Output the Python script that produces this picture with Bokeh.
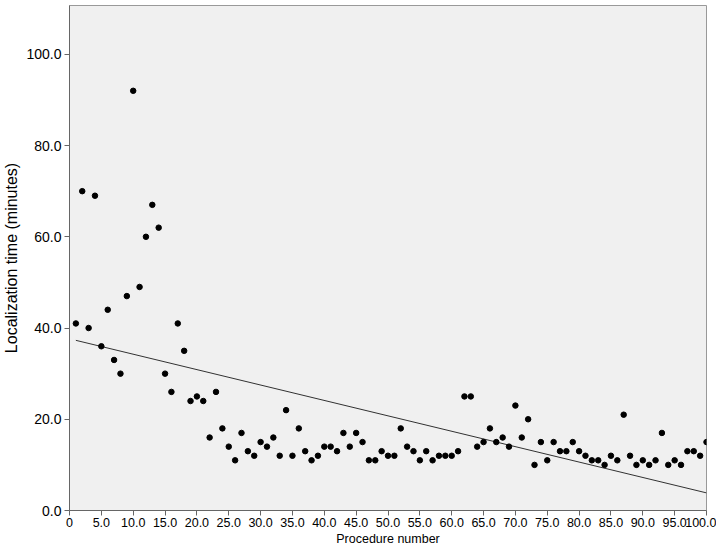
import numpy as np
from bokeh.plotting import figure
from bokeh.models import FixedTicker, Range1d, ColumnDataSource
from bokeh.embed import file_html
from bokeh.resources import INLINE

procedure = list(range(1, 101))
loc_time = [41, 70, 40, 69, 36, 44, 33, 30, 47, 92,
            49, 60, 67, 62, 30, 26, 41, 35, 24, 25,
            24, 16, 26, 18, 14, 11, 17, 13, 12, 15,
            14, 16, 12, 22, 12, 18, 13, 11, 12, 14,
            14, 13, 17, 14, 17, 15, 11, 11, 13, 12,
            12, 18, 14, 13, 11, 13, 11, 12, 12, 12,
            13, 25, 25, 14, 15, 18, 15, 16, 14, 23,
            16, 20, 10, 15, 11, 15, 13, 13, 15, 13,
            12, 11, 11, 10, 12, 11, 21, 12, 10, 11,
            10, 11, 17, 10, 11, 10, 13, 13, 12, 15]

x_ticks = [0, 5, 10, 15, 20, 25, 30, 35, 40, 45, 50, 55, 60, 65, 70, 75, 80, 85, 90, 95, 100]
x_tick_labels = ["0", "5.0", "10.0", "15.0", "20.0", "25.0", "30.0", "35.0", "40.0", "45.0", "50.0",
                 "55.0", "60.0", "65.0", "70.0", "75.0", "80.0", "85.0", "90.0", "95.0", "100.0"]
y_ticks = [0, 20, 40, 60, 80, 100]
y_tick_labels = ["0.0", "20.0", "40.0", "60.0", "80.0", "100.0"]

FONT = "Liberation Sans"

p = figure(width=716, height=548, output_backend="svg", toolbar_location=None,
           x_range=Range1d(0, 100), y_range=Range1d(0, 110.7),
           min_border_left=68, min_border_right=10, min_border_top=5, min_border_bottom=38)

p.background_fill_color = "#f0f0f0"
p.border_fill_color = "white"
p.outline_line_color = "#999999"
p.outline_line_width = 1
p.grid.visible = False

# regression line (least squares fit of the data)
slope, intercept = np.polyfit(np.array(procedure, dtype=float), np.array(loc_time, dtype=float), 1)
xs = [min(procedure), max(procedure)]
ys = [intercept + slope * v for v in xs]
p.line(xs, ys, line_color="black", line_width=0.8)

src = ColumnDataSource(dict(x=procedure, y=loc_time))
p.scatter("x", "y", source=src, size=5.5, fill_color="black", line_color="black")

for ax in (p.xaxis[0], p.yaxis[0]):
    ax.axis_line_color = "#666666"
    ax.major_tick_line_color = "#666666"
    ax.major_tick_in = 0
    ax.major_tick_out = 5
    ax.minor_tick_line_color = None
    ax.major_label_text_font = FONT
    ax.axis_label_text_font = FONT
    ax.axis_label_text_font_style = "normal"
    ax.major_label_text_color = "black"
    ax.axis_label_text_color = "black"

p.xaxis[0].ticker = FixedTicker(ticks=x_ticks)
p.xaxis[0].major_label_overrides = {t: l for t, l in zip(x_ticks, x_tick_labels)}
p.yaxis[0].ticker = FixedTicker(ticks=y_ticks)
p.yaxis[0].major_label_overrides = {t: l for t, l in zip(y_ticks, y_tick_labels)}

p.xaxis[0].axis_label = "Procedure number"
p.yaxis[0].axis_label = "Localization time (minutes)"
p.xaxis[0].major_label_text_font_size = "12.5px"
p.xaxis[0].axis_label_text_font_size = "12.5px"
p.yaxis[0].major_label_text_font_size = "14px"
p.yaxis[0].axis_label_text_font_size = "16px"
p.xaxis[0].major_label_standoff = 2
p.xaxis[0].axis_label_standoff = 2
p.yaxis[0].major_label_standoff = 3
p.yaxis[0].axis_label_standoff = 3

open("out.html", "w").write(file_html(p, INLINE))
